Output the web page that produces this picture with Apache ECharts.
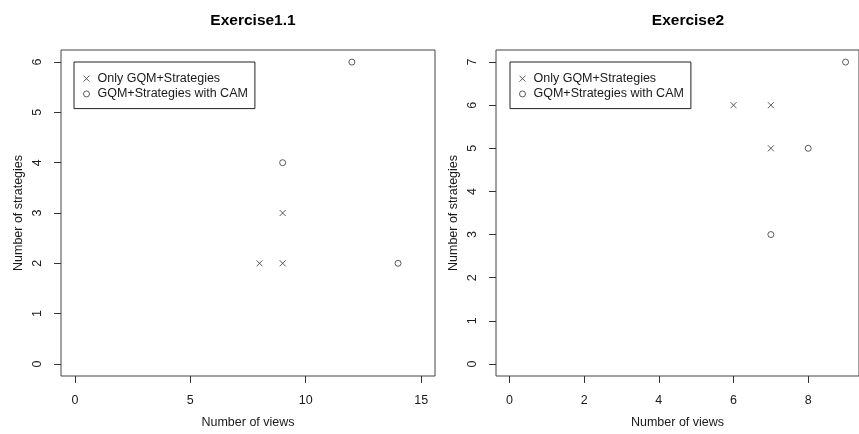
<!DOCTYPE html>
<html>
<head>
<meta charset="utf-8">
<script src="https://cdn.jsdelivr.net/npm/echarts@6/dist/echarts.min.js"></script>
<style>
html,body{margin:0;padding:0;background:#fff;}
#chart{width:859px;height:434px;}
</style>
</head>
<body>
<div id="chart"></div>
<script>
// ---- data ----
var titles = ['Exercise1.1', 'Exercise2'];
var seriesNames = ['Only GQM+Strategies', 'GQM+Strategies with CAM'];
var ex1Only = [[8, 2], [9, 2], [9, 3]];
var ex1Cam = [[9, 4], [12, 6], [14, 2]];
var ex2Only = [[6, 6], [7, 6], [7, 5]];
var ex2Cam = [[7, 3], [8, 5], [9, 7]];
var ex1XTicks = [0, 5, 10, 15];
var ex1YTicks = [0, 1, 2, 3, 4, 5, 6];
var ex2XTicks = [0, 2, 4, 6, 8];
var ex2YTicks = [0, 1, 2, 3, 4, 5, 6, 7];
var xName = 'Number of views';
var yName = 'Number of strategies';

var FONT = 'Liberation Sans, Arial, sans-serif';
var TXT = '#1a1a1a';
var MARK = '#333';
var crossPath = 'path://M0,0L10,10M10,0L0,10';

function xAxis(idx, min, max, ticks) {
  return {
    type: 'value', gridIndex: idx, min: min, max: max,
    name: xName, nameLocation: 'middle', nameGap: 40,
    nameTextStyle: {fontFamily: FONT, fontSize: 12.5, color: TXT},
    splitLine: {show: false},
    axisLine: {show: false, onZero: false},
    axisTick: {show: true, inside: false, length: 7, customValues: ticks, lineStyle: {color: '#333'}},
    axisLabel: {customValues: ticks, margin: 18, fontFamily: FONT, fontSize: 12.5, color: TXT}
  };
}
function yAxis(idx, min, max, ticks) {
  return {
    type: 'value', gridIndex: idx, min: min, max: max,
    name: yName, nameLocation: 'middle', nameGap: 36, nameRotate: 90,
    nameTextStyle: {fontFamily: FONT, fontSize: 12.5, color: TXT},
    splitLine: {show: false},
    axisLine: {show: false, onZero: false},
    axisTick: {show: true, inside: false, length: 7, customValues: ticks, lineStyle: {color: '#333'}},
    axisLabel: {customValues: ticks, rotate: 90, margin: 17, fontFamily: FONT, fontSize: 12.5, color: TXT}
  };
}
function crossSeries(name, idx, data) {
  return {
    type: 'scatter', name: name, xAxisIndex: idx, yAxisIndex: idx, data: data,
    symbol: crossPath, symbolSize: 6,
    itemStyle: {color: 'transparent', borderColor: MARK, borderWidth: 1},
    emphasis: {disabled: true}
  };
}
function circleSeries(name, idx, data) {
  return {
    type: 'scatter', name: name, xAxisIndex: idx, yAxisIndex: idx, data: data,
    symbol: 'circle', symbolSize: 6,
    itemStyle: {color: 'transparent', borderColor: MARK, borderWidth: 1},
    emphasis: {disabled: true}
  };
}
function legend(left) {
  return {
    orient: 'vertical', left: left, top: 62,
    data: seriesNames,
    itemWidth: 6, itemHeight: 6, itemGap: 0,
    padding: [9, 7, 7, 9],
    borderColor: '#222', borderWidth: 1,
    selectedMode: false,
    itemStyle: {color: 'transparent', borderColor: MARK, borderWidth: 1},
    textStyle: {fontFamily: FONT, fontSize: 12.5, color: TXT, lineHeight: 15.3, padding: [0, 0, 0, 3]}
  };
}

var chart = echarts.init(document.getElementById('chart'), null, {renderer: 'canvas'});
chart.setOption({
  animation: false,
  backgroundColor: '#fff',
  title: [
    {text: titles[0], left: 248, top: 8, textAlign: 'center',
     textStyle: {fontFamily: FONT, fontSize: 15.5, fontWeight: 'bold', color: '#000'}},
    {text: titles[1], left: 683, top: 8, textAlign: 'center',
     textStyle: {fontFamily: FONT, fontSize: 15.5, fontWeight: 'bold', color: '#000'}}
  ],
  legend: [legend(74), legend(510)],
  grid: [
    {left: 61, top: 50, width: 374, height: 327, show: true, borderColor: '#444', borderWidth: 1, backgroundColor: 'transparent'},
    {left: 496, top: 50, width: 374, height: 327, show: true, borderColor: '#444', borderWidth: 1, backgroundColor: 'transparent'}
  ],
  xAxis: [xAxis(0, -0.6, 15.6, ex1XTicks), xAxis(1, -0.36, 9.36, ex2XTicks)],
  yAxis: [yAxis(0, -0.24, 6.24, ex1YTicks), yAxis(1, -0.28, 7.28, ex2YTicks)],
  series: [
    crossSeries(seriesNames[0], 0, ex1Only),
    circleSeries(seriesNames[1], 0, ex1Cam),
    crossSeries(seriesNames[0], 1, ex2Only),
    circleSeries(seriesNames[1], 1, ex2Cam)
  ]
});
</script>
</body>
</html>
